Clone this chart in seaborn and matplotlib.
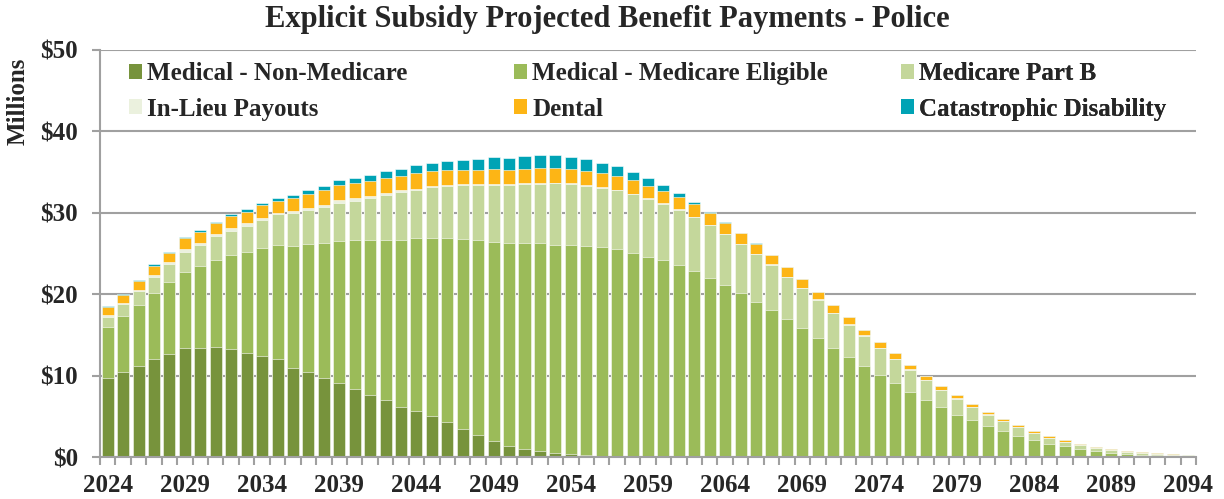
import numpy as np
import pandas as pd
import matplotlib
matplotlib.use("Agg")
import matplotlib.pyplot as plt
import seaborn as sns
from matplotlib.patches import Patch

# ---------------- data (millions of dollars) ----------------
years = list(range(2024, 2095))

non_medicare = [
    9.7, 10.4, 11.15, 12.1, 12.7, 13.4, 13.4, 13.5, 13.25, 12.75,      # 2024-2033
    12.35, 12.0, 10.9, 10.4, 9.65, 9.1, 8.3, 7.65, 6.95, 6.2,          # 2034-2043
    5.6, 5.05, 4.25, 3.5, 2.75, 2.0, 1.35, 1.0, 0.75, 0.5,             # 2044-2053
    0.4, 0.3, 0.15, 0.1, 0.05, 0.03, 0.02, 0.01, 0, 0,                 # 2054-2063
    0, 0, 0, 0, 0, 0, 0, 0, 0, 0,                                      # 2064-2073
    0, 0, 0, 0, 0, 0, 0, 0, 0, 0,                                      # 2074-2083
    0, 0, 0, 0, 0, 0, 0, 0, 0, 0, 0,                                   # 2084-2094
]
medicare_eligible = [
    6.3, 6.9, 7.5, 8.0, 8.8, 9.3, 10.1, 10.7, 11.55, 12.45,
    13.3, 14.0, 15.0, 15.75, 16.6, 17.4, 18.3, 19.0, 19.75, 20.5,
    21.3, 21.9, 22.65, 23.25, 23.85, 24.4, 24.9, 25.25, 25.5, 25.6,
    25.65, 25.65, 25.6, 25.4, 25.05, 24.6, 24.15, 23.55, 22.8, 22.05,
    21.1, 20.2, 19.1, 18.1, 17.0, 15.8, 14.65, 13.4, 12.3, 11.15,
    10.1, 9.05, 7.95, 7.0, 6.1, 5.2, 4.5, 3.8, 3.2, 2.6,
    2.1, 1.65, 1.35, 1.0, 0.75, 0.55, 0.37, 0.3, 0.2, 0.12, 0.08,
]
part_b = [
    1.25, 1.45, 1.7, 2.0, 2.2, 2.5, 2.6, 2.9, 3.0, 3.2,
    3.5, 3.8, 4.1, 4.2, 4.45, 4.75, 4.9, 5.2, 5.45, 5.85,
    5.9, 6.25, 6.45, 6.65, 6.85, 7.05, 7.2, 7.3, 7.3, 7.5,
    7.5, 7.4, 7.35, 7.3, 7.2, 7.1, 6.95, 6.8, 6.65, 6.45,
    6.25, 5.95, 5.8, 5.5, 5.1, 4.95, 4.65, 4.3, 3.95, 3.75,
    3.3, 3.0, 2.75, 2.45, 2.1, 1.95, 1.65, 1.4, 1.2, 1.05,
    0.8, 0.65, 0.5, 0.45, 0.3, 0.28, 0.27, 0.23, 0.17, 0.16, 0.12,
]
in_lieu = [
    0.2, 0.15, 0.12, 0.25, 0.2, 0.35, 0.25, 0.25, 0.35, 0.3,
    0.25, 0.15, 0.2, 0.25, 0.25, 0.35, 0.35, 0.25, 0.3, 0.2,
    0.15, 0.1, 0.1, 0.1, 0.1, 0.1, 0.05, 0.05, 0.05, 0.05,
    0.05, 0.05, 0.05, 0.05, 0.05, 0.05, 0.05, 0.05, 0.05, 0.05,
    0.05, 0.05, 0.05, 0.05, 0.05, 0.05, 0.05, 0.05, 0.05, 0.05,
    0.05, 0.05, 0.05, 0.05, 0.05, 0.05, 0.04, 0.04, 0.04, 0.03,
    0.03, 0.03, 0.03, 0.02, 0.02, 0.02, 0.02, 0.02, 0.01, 0.01, 0.01,
]
dental = [
    1.0, 1.05, 1.1, 1.1, 1.15, 1.3, 1.3, 1.35, 1.45, 1.45,
    1.5, 1.55, 1.65, 1.7, 1.9, 1.85, 1.85, 1.8, 1.85, 1.8,
    1.9, 1.8, 1.75, 1.8, 1.75, 1.8, 1.8, 1.8, 1.9, 1.85,
    1.75, 1.75, 1.75, 1.7, 1.7, 1.55, 1.55, 1.5, 1.55, 1.4,
    1.35, 1.3, 1.25, 1.2, 1.15, 1.05, 0.9, 0.9, 0.85, 0.7,
    0.7, 0.65, 0.55, 0.45, 0.45, 0.4, 0.3, 0.3, 0.25, 0.2,
    0.25, 0.2, 0.2, 0.12, 0.15, 0.1, 0.08, 0.07, 0.08, 0.07, 0.07,
]
catastrophic = [
    0.15, 0.1, 0.13, 0.2, 0.15, 0.2, 0.25, 0.2, 0.3, 0.3,
    0.3, 0.3, 0.35, 0.45, 0.45, 0.55, 0.6, 0.75, 0.8, 0.8,
    1.0, 1.05, 1.15, 1.2, 1.35, 1.45, 1.45, 1.55, 1.55, 1.55,
    1.55, 1.4, 1.25, 1.15, 1.0, 0.9, 0.7, 0.55, 0.22, 0.12,
    0.1, 0.06, 0.04, 0.02, 0.01, 0, 0, 0, 0, 0,
    0, 0, 0, 0, 0, 0, 0, 0, 0, 0,
    0, 0, 0, 0, 0, 0, 0, 0, 0, 0, 0,
]

series_names = ["Medical - Non-Medicare", "Medical - Medicare Eligible", "Medicare Part B",
                "In-Lieu Payouts", "Dental", "Catastrophic Disability"]
series_values = [non_medicare, medicare_eligible, part_b, in_lieu, dental, catastrophic]
series_colors = ["#77933C", "#9BBB59", "#C4D79B", "#EBF1DE", "#FDB515", "#00A3B5"]

title = "Explicit Subsidy Projected Benefit Payments - Police"
y_label = "Millions"
y_ticks = [0, 10, 20, 30, 40, 50]
y_tick_labels = [r"\$0", r"\$10", r"\$20", r"\$30", r"\$40", r"\$50"]
x_label_step = 5

# ---------------- figure ----------------
sns.set_theme(style="white")
plt.rcParams["font.family"] = ["Liberation Serif", "DejaVu Serif"]
plt.rcParams["font.weight"] = "bold"

W, H = 1224, 499
fig, ax = plt.subplots(figsize=(W / 100, H / 100), dpi=100)
fig.subplots_adjust(left=100 / W, right=1196 / W, bottom=42 / H, top=449 / H)

year_labels = [str(y) for y in years]
df = pd.DataFrame(dict(zip(series_names, series_values)), index=year_labels)
cum = df.cumsum(axis=1)

# draw cumulative totals from the top layer down so each segment shows its own colour
for name, color in reversed(list(zip(series_names, series_colors))):
    layer = pd.DataFrame({"year": year_labels, "value": cum[name].values})
    sns.barplot(data=layer, x="year", y="value", order=year_labels, color=color,
                saturation=1, width=0.78, errorbar=None, ax=ax,
                edgecolor="white", linewidth=0.4)

grid_color = "#A0A0A0"
ax.set_xlim(-0.5, len(years) - 0.5)
ax.set_ylim(0, 50)
ax.set_xlabel("")
ax.set_ylabel("")

ax.set_xticks(range(0, len(years), x_label_step))
ax.set_xticklabels(year_labels[::x_label_step])
ax.set_xticks(np.arange(-0.5, len(years), 1), minor=True)
ax.tick_params(axis="x", which="major", bottom=True, length=0, pad=12, labelsize=18)
ax.tick_params(axis="x", which="minor", bottom=True, length=6, width=1.5,
               color=grid_color, direction="out")

ax.set_yticks(y_ticks)
ax.set_yticklabels(y_tick_labels)
ax.tick_params(axis="y", which="major", left=True, length=6, width=1.5,
               color=grid_color, pad=10, labelsize=18)

ax.yaxis.grid(True, color=grid_color, linewidth=1.5)
ax.xaxis.grid(False)
ax.set_axisbelow(True)
for side in ["top", "right"]:
    ax.spines[side].set_visible(False)
for side in ["left", "bottom"]:
    ax.spines[side].set_color(grid_color)
    ax.spines[side].set_linewidth(1.5)

fig.text(0.496, 1 - 19 / H, title, ha="center", va="center", fontsize=22, fontweight="bold")
fig.text(18 / W, 1 - 101 / H, y_label, rotation=90, ha="center", va="center",
         fontsize=18, fontweight="bold")

# legend: 3 columns x 2 rows, row-wise order
handles = [Patch(facecolor=c, edgecolor="none") for c in series_colors]
col_idx = [[0, 3], [1, 4], [2, 5]]
col_x = [0.0265, 0.3777, 0.7308]
for xi, idxs in zip(col_x, col_idx):
    leg = ax.legend([handles[i] for i in idxs], [series_names[i] for i in idxs],
                    loc="upper left", bbox_to_anchor=(xi, 0.970), frameon=False,
                    borderpad=0, borderaxespad=0, handlelength=0.53, handleheight=0.53,
                    handletextpad=0.2, labelspacing=0.5,
                    prop=dict(family="Liberation Serif", weight="bold", size=18))
    ax.add_artist(leg)

fig.savefig("out.png", dpi=100)
